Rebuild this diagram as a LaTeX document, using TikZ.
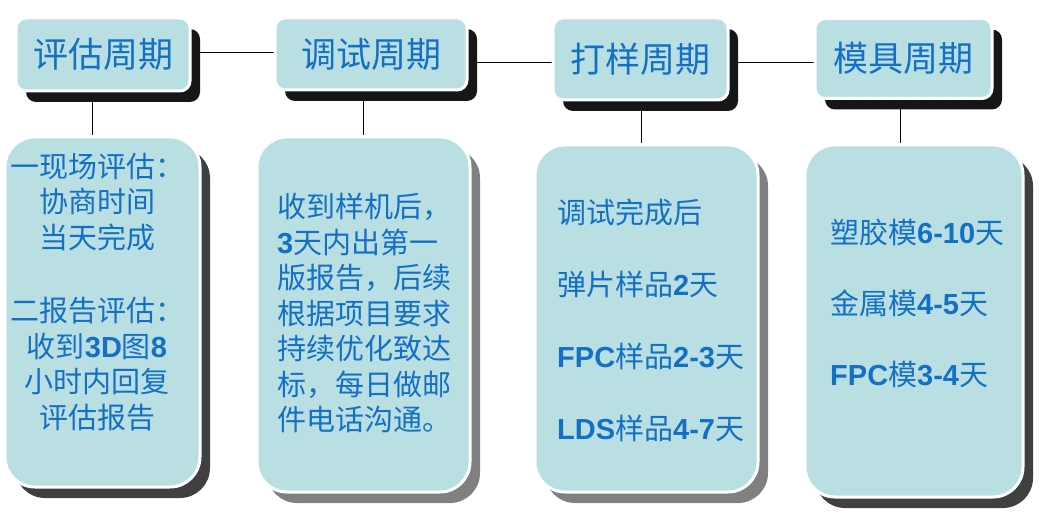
\documentclass[tikz,border=0pt]{standalone}
\usepackage{fontspec}
\setmainfont{Noto Sans CJK SC}
\newfontfamily\latb{Liberation Sans}
\usetikzlibrary{shadows}
\definecolor{boxfill}{RGB}{186,223,227}
\definecolor{txtblue}{RGB}{20,112,196}
\definecolor{shdark}{RGB}{22,22,22}
\definecolor{shmid}{RGB}{64,64,64}
\definecolor{shgray}{RGB}{128,128,128}
\newcommand\nb[1]{{\latb\bfseries #1}}
\pgfdeclarelayer{bg}
\pgfsetlayers{bg,main}
\begin{document}
\begin{tikzpicture}[x=1pt,y=-1pt,
  hdr/.style={draw=white, line width=3pt, fill=boxfill, rounded corners=10pt, inner sep=0pt, text=txtblue, font=\fontsize{35}{40}\selectfont},
  bodybox/.style={draw=white, line width=3pt, fill=boxfill, rounded corners=30pt, inner sep=0pt},
  shad/.style={drop shadow={shadow xshift=10pt, shadow yshift=-11pt, fill=#1, opacity=1}},
  btxt/.style={inner sep=0pt, text=txtblue},
  link/.style={draw=black, line width=1pt}
]
\useasboundingbox (0,0) rectangle (1041,516);

% headers
\node[hdr, shad=shdark, minimum width=174pt, minimum height=73pt] (H1) at (103,54.5) {评估周期};
\node[hdr, shad=shdark, minimum width=192pt, minimum height=72pt] (H2) at (371,54) {调试周期};
\node[hdr, shad=shdark, minimum width=175pt, minimum height=82pt] (H3) at (640.5,59) {打样周期};
\node[hdr, shad=shdark, minimum width=177pt, minimum height=80pt] (H4) at (903.5,58.5) {模具周期};

% bodies
\node[bodybox, shad=shmid, minimum width=195pt, minimum height=350pt] (B1) at (102.5,312) {};
\node[bodybox, shad=shgray, minimum width=213pt, minimum height=355pt] (B2) at (363.5,314.5) {};
\node[bodybox, shad=shgray, minimum width=223pt, minimum height=347pt] (B3) at (646.5,318.5) {};
\node[bodybox, shad=shmid, minimum width=218pt, minimum height=352pt] (B4) at (914,321) {};

% body texts
\node[btxt, align=center, font=\fontsize{29}{35.5}\selectfont] (T1) at (97,292)
  {一现场评估：\\协商时间\\当天完成\\[38pt]二报告评估：\\收到\nb{3D}图\nb{8}\\小时内回复\\评估报告};
\node[btxt, align=left, anchor=west, font=\fontsize{29}{35.5}\selectfont] (T2) at (277,313)
  {收到样机后，\\\nb{3}天内出第一\\版报告，后续\\根据项目要求\\持续优化致达\\标，每日做邮\\件电话沟通。};
\node[btxt, align=left, anchor=west, font=\fontsize{29}{72}\selectfont] (T3) at (557,320)
  {调试完成后\\弹片样品\nb{2}天\\\nb{FPC}样品\nb{2-3}天\\\nb{LDS}样品\nb{4-7}天};
\node[btxt, align=left, anchor=west, font=\fontsize{29}{71}\selectfont] (T4) at (830,303)
  {塑胶模\nb{6-10}天\\金属模\nb{4-5}天\\\nb{FPC}模\nb{3-4}天};

% connectors
\begin{pgfonlayer}{bg}
\draw[link] (H1.east |- 0,53) -- (H2.west |- 0,53);
\draw[link] (H2.east |- 0,63) -- (H3.west |- 0,63);
\draw[link] (H3.east |- 0,63) -- (H4.west |- 0,63);
\draw[link] (H1.south -| 92,0) -- (B1.north -| 92,0);
\draw[link] (H2.south -| 363,0) -- (B2.north -| 363,0);
\draw[link] (H3.south -| 641,0) -- (B3.north -| 641,0);
\draw[link] (H4.south -| 900,0) -- (B4.north -| 900,0);
\end{pgfonlayer}
\end{tikzpicture}
\end{document}
